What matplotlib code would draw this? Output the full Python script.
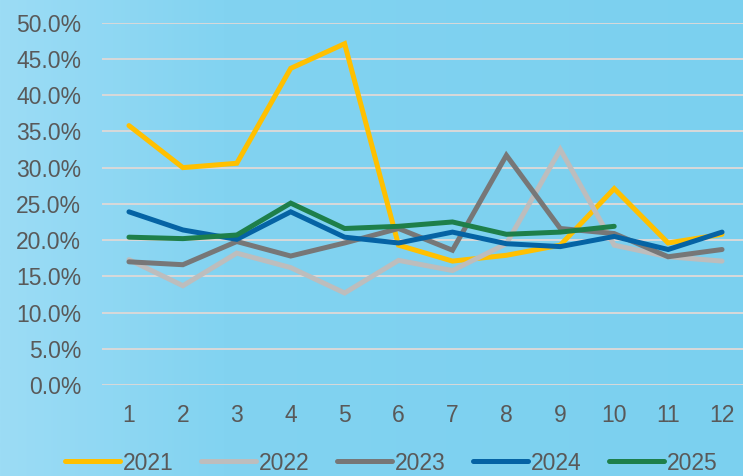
"""Monthly share by year, 2021-2025, drawn as line chart on a blue panel."""

import matplotlib

matplotlib.use("Agg")
import matplotlib.pyplot as plt
import numpy as np
from matplotlib.colors import LinearSegmentedColormap
from matplotlib.ticker import PercentFormatter

months = list(range(1, 13))
years = ["2021", "2022", "2023", "2024", "2025"]

share_2021 = [35.8, 30.0, 30.6, 43.7, 47.1, 19.3, 17.1, 17.9, 19.3, 27.1, 19.6, 20.8]
share_2022 = [17.3, 13.7, 18.2, 16.2, 12.7, 17.2, 15.8, 19.5, 32.5, 19.3, 17.7, 17.1]
share_2023 = [17.0, 16.6, 19.8, 17.8, 19.6, 21.6, 18.6, 31.7, 21.6, 20.9, 17.7, 18.7]
share_2024 = [23.9, 21.4, 20.1, 23.9, 20.4, 19.6, 21.1, 19.5, 19.1, 20.5, 18.7, 21.1]
share_2025 = [20.4, 20.2, 20.7, 25.1, 21.6, 21.9, 22.5, 20.8, 21.1, 21.9]

series = [share_2021, share_2022, share_2023, share_2024, share_2025]
colors = ["#FFC000", "#BDBDBD", "#777777", "#0563A4", "#1E7F4A"]
text_color = "#595959"

plt.rcParams.update(
    {
        "font.family": ["Liberation Sans", "DejaVu Sans"],
        "font.size": 16.5,
    }
)

fig = plt.figure(figsize=(7.43, 4.76), dpi=100)

# soft left-to-right background gradient
bg = fig.add_axes([0, 0, 1, 1], zorder=-10)
bg.axis("off")
grad_cmap = LinearSegmentedColormap.from_list(
    "panel", [(0.0, "#9CDCF5"), (0.3, "#82D3F1"), (1.0, "#7BD0EF")]
)
bg.imshow(
    np.linspace(0, 1, 256).reshape(1, -1),
    aspect="auto",
    cmap=grad_cmap,
    extent=[0, 1, 0, 1],
)

ax = fig.add_axes([102 / 743, 1 - 385 / 476, 647 / 743, (385 - 22.7) / 476])
ax.set_facecolor("none")

for year, values, color in zip(years, series, colors):
    ax.plot(
        months[: len(values)],
        np.array(values) / 100,
        color=color,
        linewidth=3.6,
        solid_capstyle="round",
        solid_joinstyle="miter",
        label=year,
    )

ax.set_xlim(0.5, 12.5)
ax.set_ylim(0, 0.5)
ax.set_xticks(months)
ax.set_yticks(np.arange(0, 0.501, 0.05))
ax.yaxis.set_major_formatter(PercentFormatter(1.0, decimals=1))
ax.tick_params(length=0, colors=text_color, labelsize=16.5)
ax.tick_params(axis="y", pad=15)
ax.tick_params(axis="x", pad=14)
ax.grid(True, axis="y", color="#D9D9D9", linewidth=1.4)
ax.set_axisbelow(True)
for spine in ax.spines.values():
    spine.set_visible(False)

fig.legend(
    loc="center",
    bbox_to_anchor=(391 / 743, 1 - 463 / 476),
    ncol=5,
    frameon=False,
    handlelength=2.4,
    handletextpad=0.12,
    columnspacing=1.2,
    labelcolor=text_color,
    fontsize=16.5,
)

fig.savefig("out.png", dpi=100)
